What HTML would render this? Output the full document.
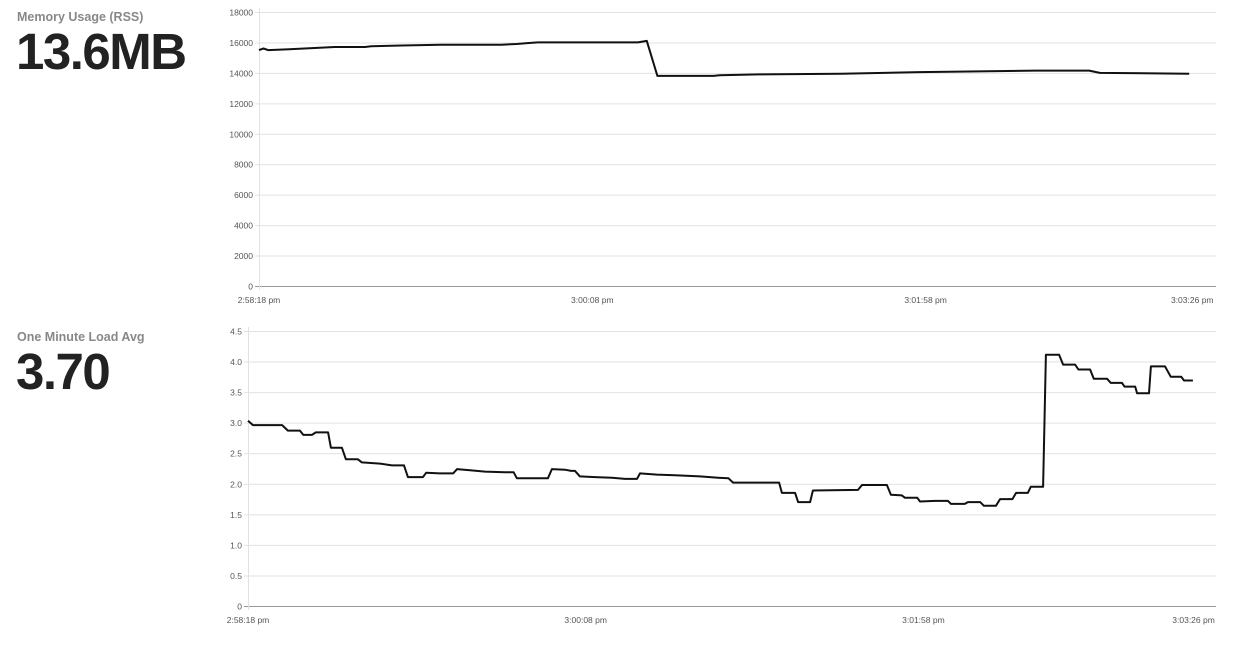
<!DOCTYPE html>
<html><head><meta charset="utf-8"><style>
body{margin:0;width:1253px;height:654px;background:#fff;font-family:"Liberation Sans",Arial,sans-serif;position:relative;overflow:hidden}
.t{position:absolute;left:17px;font-size:12.5px;font-weight:bold;color:#888}
.v{position:absolute;left:16px;font-size:51px;font-weight:bold;color:#222;letter-spacing:-1.5px}
svg{position:absolute;left:0;top:0}
svg text{font-family:"Liberation Sans",Arial,sans-serif;font-size:8.5px;fill:#555}
</style></head><body>
<div class="t" style="top:10px">Memory Usage (RSS)</div>
<div class="v" style="top:22px">13.6MB</div>
<div class="t" style="top:330px">One Minute Load Avg</div>
<div class="v" style="top:342px">3.70</div>
<svg id="c" width="1253" height="654"></svg>
<script>
const xTickLabels=["2:58:18 pm","3:00:08 pm","3:01:58 pm","3:03:26 pm"];
const xTickSecs=[0,110,220,308];
const memTicks=[0,2000,4000,6000,8000,10000,12000,14000,16000,18000];
const memTimes=[0,1.5,3,10,15,20,25,35,37,47,60,80,85,88,92,125,128,131.5,150,152,165,192,218,256,274,277.5,307];
const memValues=[15500,15600,15500,15550,15600,15650,15700,15700,15750,15800,15850,15850,15900,15950,16000,16000,16100,13800,13800,13850,13900,13950,14050,14150,14150,14000,13950];
const loadTicks=[0,0.5,1.0,1.5,2.0,2.5,3.0,3.5,4.0,4.5];
const loadTimes=[0,1.6,11.1,13,16.9,18,20.8,22.1,26.1,27,30.6,31.9,35.8,37.1,43,46.9,50.8,52.1,57,58,62.5,66.8,68.1,72.3,77.2,83.7,86.5,87.6,97.7,99,103.3,105.2,106.5,108.1,113,118.6,122.8,126.7,127.7,133.2,139.1,147.2,153.1,156.5,158,173,173.9,178.2,179.2,183.1,184,198.7,200,208.1,209.4,213,214,218,218.9,223.8,228,229,233.5,234.5,238.5,239.7,243.6,245,249,250.2,254,255,259,259.9,264.2,265.5,269.4,270.5,274.3,275.5,279.8,281,284.7,285.5,289,289.6,293.5,294.1,298.7,300.6,304,304.9,307.8];
const loadValues=[3.03,2.96,2.96,2.87,2.87,2.80,2.80,2.84,2.84,2.59,2.59,2.40,2.40,2.35,2.33,2.30,2.30,2.11,2.11,2.18,2.17,2.17,2.24,2.22,2.20,2.19,2.19,2.09,2.09,2.24,2.23,2.21,2.21,2.12,2.11,2.10,2.08,2.08,2.17,2.15,2.14,2.12,2.10,2.09,2.02,2.02,1.85,1.85,1.70,1.70,1.89,1.90,1.98,1.98,1.82,1.81,1.77,1.77,1.71,1.72,1.72,1.67,1.67,1.70,1.70,1.64,1.64,1.75,1.75,1.85,1.85,1.95,1.95,4.11,4.11,3.95,3.95,3.87,3.87,3.72,3.72,3.65,3.65,3.59,3.59,3.48,3.48,3.92,3.92,3.75,3.75,3.69,3.69];
const NS='http://www.w3.org/2000/svg';
const svg=document.getElementById('c');
function mk(tag,attrs){const e=document.createElementNS(NS,tag);for(const k in attrs)e.setAttribute(k,attrs[k]);svg.appendChild(e);return e;}
function chart(name,cfg,ticks,fmt,times,values){
  const xs=t=>cfg.x0+t*cfg.pps;
  const ys=v=>cfg.y0-(v-ticks[0])/(ticks[ticks.length-1]-ticks[0])*(cfg.y0-cfg.y1);
  ticks.forEach(v=>{
    const y=ys(v)+0.5;
    const g=mk('line',{x1:cfg.x0-4,x2:cfg.x2,y1:y,y2:y,stroke:v===ticks[0]?'#999':'#e2e2e2','stroke-width':1});
    
    
    const tx=mk('text',{x:cfg.x0-6,y:y+3,'text-anchor':'end'});
    tx.textContent=fmt(v);
    
    
  });
  const ax=mk('line',{x1:cfg.x0+0.5,x2:cfg.x0+0.5,y1:cfg.y1-4,y2:cfg.y0+4,stroke:'#e2e2e2'});
  
  
  xTickSecs.forEach((s,i)=>{
    const tx=mk('text',{x:xs(s),y:cfg.y0+17,'text-anchor':'middle'});
    tx.textContent=xTickLabels[i];
    
    
  });
  const d=times.map((t,i)=>(i?'L':'M')+xs(t).toFixed(1)+' '+ys(values[i]).toFixed(1)).join(' ');
  const p=mk('path',{d:d,fill:'none',stroke:'#111','stroke-width':2,'stroke-linejoin':'round'});
  
  
}
chart('memory-chart',{x0:259,x2:1216,y0:286,y1:12,pps:3.03},memTicks,v=>String(v),memTimes,memValues);
chart('load-chart',{x0:248,x2:1216,y0:606,y1:331,pps:3.07},loadTicks,v=>v===0?'0':v.toFixed(1),loadTimes,loadValues);
</script>
</body></html>
